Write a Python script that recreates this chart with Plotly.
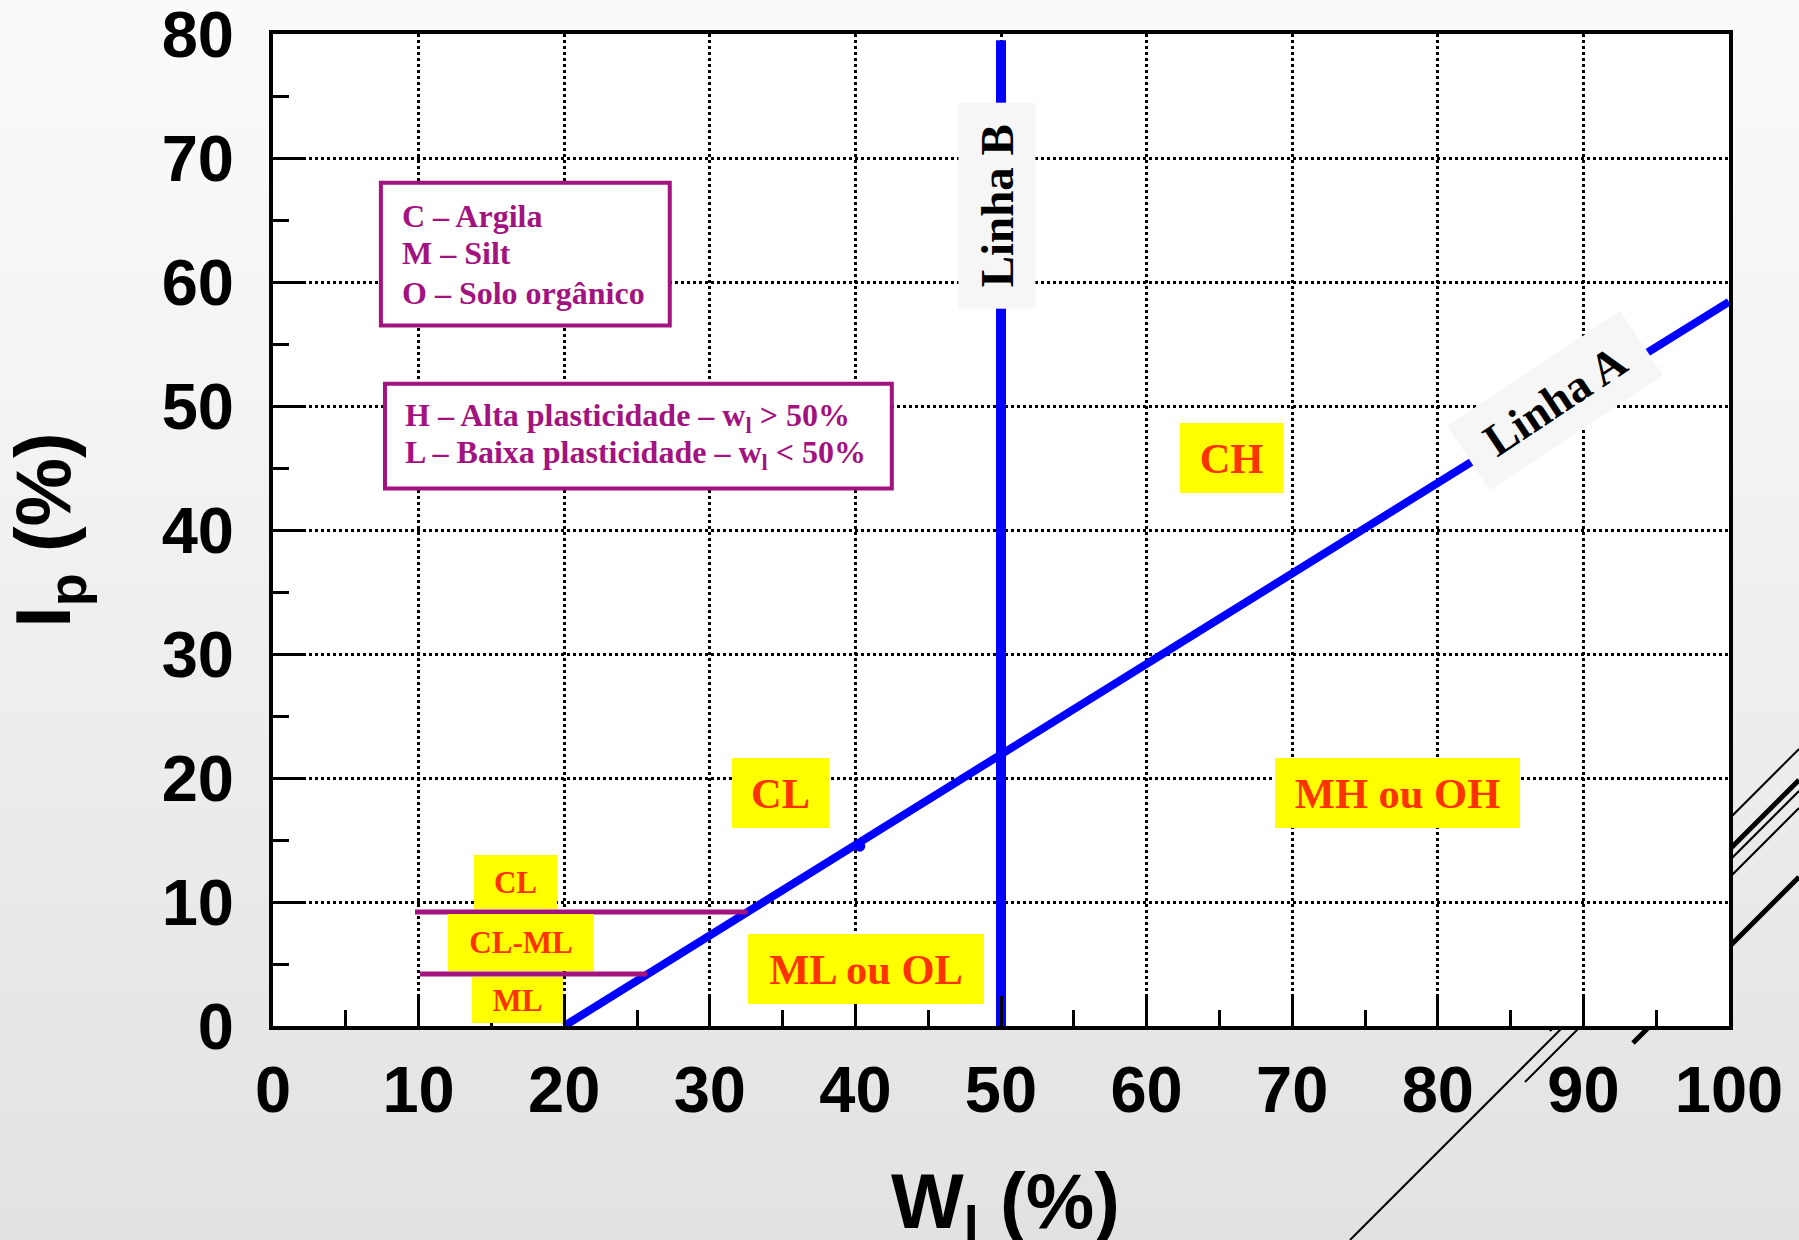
import plotly.graph_objects as go

# ---------------- data ----------------
x_ticks = [0, 10, 20, 30, 40, 50, 60, 70, 80, 90, 100]
y_ticks = [0, 10, 20, 30, 40, 50, 60, 70, 80]

line_a_wl = [20, 100]
line_a_ip = [0, 58.4]
line_b_wl = [50, 50]
line_b_ip = [0, 79.5]
clml_upper_wl = [9.75, 32.6]
clml_upper_ip = [9.2, 9.2]
clml_lower_wl = [10.1, 25.7]
clml_lower_ip = [4.2, 4.2]
point_wl = [40.3]
point_ip = [14.5]

zone_labels = ["CH", "CL", "MH ou OH", "ML ou OL", "CL", "CL-ML", "ML"]
legend1_lines = ["C – Argila", "M – Silt", "O – Solo orgânico"]
legend2_lines = ["H – Alta plasticidade – w<sub>l</sub> > 50%",
                 "L – Baixa plasticidade – w<sub>l</sub> < 50%"]
x_title = "W<sub>l</sub> (%)"
y_title = "I<sub>p</sub> (%)"

# ---------------- layout geometry / styles ----------------
W, H = 1799, 1240
L, R, T, B = 273, 1729, 34, 1026
PURPLE = "#a3137f"
RED = "#ff3300"
YELLOW = "#ffff00"
BLUE = "#0000ff"
SERIF = "Liberation Serif"
SANS = "Liberation Sans"


def px2paper(px, py):
    return (px - L) / (R - L), (B - py) / (B - T)


fig = go.Figure()

fig.add_trace(go.Scatter(x=line_a_wl, y=line_a_ip, mode="lines",
                         line=dict(color=BLUE, width=8), showlegend=False))
fig.add_trace(go.Scatter(x=line_b_wl, y=line_b_ip, mode="lines",
                         line=dict(color=BLUE, width=10), showlegend=False))
fig.add_trace(go.Scatter(x=clml_upper_wl, y=clml_upper_ip, mode="lines",
                         line=dict(color=PURPLE, width=5), showlegend=False))
fig.add_trace(go.Scatter(x=clml_lower_wl, y=clml_lower_ip, mode="lines",
                         line=dict(color=PURPLE, width=5), showlegend=False))
fig.add_trace(go.Scatter(x=point_wl, y=point_ip, mode="markers",
                         marker=dict(color=BLUE, size=11), showlegend=False))

shapes = []
# background gradient bands (paper)
n = 40
for i in range(n):
    t0 = i / n
    t1 = (i + 1) / n
    v = int(round(250 - 24 * ((t0 + t1) / 2) ** 1.15))
    y0p = px2paper(0, t0 * H - 1)[1]
    y1p = px2paper(0, t1 * H + 1)[1]
    shapes.append(dict(type="rect", xref="paper", yref="paper",
                       x0=px2paper(-5, 0)[0], x1=px2paper(W + 5, 0)[0],
                       y0=y1p, y1=y0p, line=dict(width=0),
                       fillcolor=f"rgb({v},{v},{v})", layer="below"))

# decorative diagonal lines (slide theme)
decor = [((1350, 1240), (1799, 791), 2),
         ((1525, 1082), (1799, 808), 2),
         ((1633, 1043), (1799, 877), 5),
         ((1549, 1030), (1799, 780), 5),
         ((1700, 848), (1799, 749), 2)]
for (p0, p1, w) in decor:
    a = px2paper(*p0)
    b = px2paper(*p1)
    shapes.append(dict(type="line", xref="paper", yref="paper",
                       x0=a[0], y0=a[1], x1=b[0], y1=b[1],
                       line=dict(color="black", width=w), layer="below"))

# white plot area (covers gradient + decor inside the plot)
shapes.append(dict(type="rect", xref="x", yref="y", x0=0, x1=100, y0=0, y1=80,
                   fillcolor="white", line=dict(width=0), layer="below"))

# legend boxes
shapes.append(dict(type="rect", xref="x", yref="y", x0=7.41, x1=27.25, y0=56.5, y1=68.0,
                   fillcolor="white", line=dict(color=PURPLE, width=4), layer="above"))
shapes.append(dict(type="rect", xref="x", yref="y", x0=7.69, x1=42.5, y0=43.35, y1=51.8,
                   fillcolor="white", line=dict(color=PURPLE, width=4), layer="above"))

annotations = []
# zone labels: (x, y, width, height, fontsize)
zone_specs = [(65.8, 45.8, 103, 70, 42.5),
              (34.83, 18.77, 97, 70, 42.5),
              (77.25, 18.77, 245, 70, 42.5),
              (40.7, 4.59, 236, 70, 42.5),
              (16.64, 11.6, 83, 54, 31),
              (17.06, 6.73, 146, 57, 31),
              (16.82, 2.1, 91, 46, 31)]
for text, (x, y, w, h, fs) in zip(zone_labels, zone_specs):
    annotations.append(dict(x=x, y=y, xref="x", yref="y", text=text, showarrow=False,
                            width=w, height=h, bgcolor=YELLOW, borderpad=0, borderwidth=0,
                            align="center", valign="middle",
                            font=dict(family=SERIF, size=fs, color=RED, weight="bold")))

for text, y in zip(legend1_lines, [65.35, 62.3, 59.1]):
    annotations.append(dict(x=8.7, y=y, xref="x", yref="y", text=text, showarrow=False,
                            xanchor="left", yanchor="middle",
                            font=dict(family=SERIF, size=32, color=PURPLE, weight="bold")))
for text, y in zip(legend2_lines, [49.1, 46.1]):
    annotations.append(dict(x=8.9, y=y, xref="x", yref="y", text=text, showarrow=False,
                            xanchor="left", yanchor="middle",
                            font=dict(family=SERIF, size=32, color=PURPLE, weight="bold")))

annotations.append(dict(x=49.73, y=66.16, xref="x", yref="y", text="Linha B", showarrow=False,
                        textangle=-90, width=206, height=77, bgcolor="#f6f6f6",
                        borderpad=0, borderwidth=0,
                        font=dict(family=SERIF, size=47, color="black", weight="bold")))
annotations.append(dict(x=88.06, y=50.44, xref="x", yref="y", text="Linha A", showarrow=False,
                        textangle=-33.6, width=208, height=77, bgcolor="#f6f6f6",
                        borderpad=0, borderwidth=0,
                        font=dict(family=SERIF, size=46, color="black", weight="bold")))

# x-axis title (as paper annotation so it may run past the bottom edge like the original)
xt = px2paper(1005, 1156)
annotations.append(dict(x=xt[0], y=xt[1], xref="paper", yref="paper", text=x_title,
                        showarrow=False, xanchor="center", yanchor="top",
                        font=dict(family=SANS, size=77, color="black", weight="bold")))

axis_common = dict(
    showline=True, linecolor="black", linewidth=4, mirror=True,
    ticks="inside", ticklen=30, tickwidth=3, tickcolor="black",
    minor=dict(dtick=5, ticks="inside", ticklen=16, tickwidth=3, tickcolor="black",
               showgrid=False),
    showgrid=True, gridcolor="black", gridwidth=2.5, griddash="dot",
    zeroline=False, automargin=False, ticklabeloverflow="allow",
    tickfont=dict(family=SANS, size=65, color="black", weight="bold"),
)

fig.update_layout(
    width=W, height=H,
    margin=dict(l=L, r=W - R, t=T, b=H - B),
    paper_bgcolor="#eeeeee", plot_bgcolor="white",
    showlegend=False,
    shapes=shapes, annotations=annotations,
    xaxis=dict(range=[0, 100], tickmode="array", tickvals=x_ticks,
               ticklabelstandoff=4, **axis_common),
    yaxis=dict(range=[0, 80], tickmode="array", tickvals=y_ticks,
               ticklabelstandoff=22,
               title=dict(text=y_title, standoff=67,
                          font=dict(family=SANS, size=77, color="black", weight="bold")),
               **axis_common),
)

fig.write_html("out.html",
               config={"displayModeBar": False},
               post_script="document.body.style.margin='0';"
                           "document.body.style.overflow='hidden';")
